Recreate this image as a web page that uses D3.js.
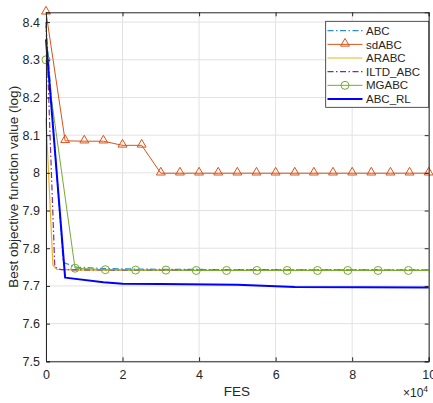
<!DOCTYPE html>
<html><head><meta charset="utf-8">
<script src="https://cdn.jsdelivr.net/npm/d3@7"></script>
<style>
html,body{margin:0;padding:0;background:#fff;}
svg{display:block;font-family:"Liberation Sans",Arial,sans-serif;}
</style></head>
<body><svg id="c" width="433" height="403"></svg>
<script>
// ---- data ----
const seriesNames = ["ABC","sdABC","ARABC","ILTD_ABC","MGABC","ABC_RL"];
const abcFES   = [0, 4500, 8000, 15000, 30000, 60000, 100000];
const abcVal   = [8.39, 7.762, 7.750, 7.746, 7.744, 7.743, 7.742];
const sdFES    = d3.range(0, 100001, 5000);
const sdVal    = [8.426, 8.085, 8.084, 8.084, 8.073, 8.073, 7.999, 7.999, 7.999, 7.999, 7.999,
                  7.999, 7.999, 7.999, 7.999, 7.999, 7.999, 7.999, 7.999, 7.999, 7.999];
const arFES    = [0, 1800, 2800, 10000, 100000];
const arVal    = [8.145, 7.755, 7.744, 7.742, 7.741];
const iltdFES  = [0, 2300, 4000, 20000, 100000];
const iltdVal  = [8.40, 7.750, 7.743, 7.742, 7.742];
const mgFES    = [0, 7580, 15500, 23420, 31340, 39260, 47180, 55100, 63020, 70940, 78860, 86780, 94700, 100000];
const mgVal    = [8.30, 7.747, 7.743, 7.742, 7.742, 7.741, 7.741, 7.741, 7.741, 7.741, 7.741, 7.741, 7.741, 7.741];
const mgMarkerFES = [0, 7580, 15500, 23420, 31340, 39260, 47180, 55100, 63020, 70940, 78860, 86780, 94700];
const rlFES    = [0, 5000, 15000, 20000, 30000, 50000, 60000, 65000, 100000];
const rlVal    = [8.354, 7.722, 7.710, 7.706, 7.705, 7.703, 7.699, 7.697, 7.696];
const xTicks   = [0, 20000, 40000, 60000, 80000, 100000];
const yTicks   = [7.5, 7.6, 7.7, 7.8, 7.9, 8.0, 8.1, 8.2, 8.3, 8.4];

// ---- layout ----
const L = 46, R = 428.7, T = 12.3, B = 361.3;
const x = d3.scaleLinear().domain([0, 100000]).range([L, R]);
const y = d3.scaleLinear().domain([7.5, 8.426]).range([B, T]);
const svg = d3.select("#c");
const axisColor = "#262626";

// grid
const g = svg.append("g");
g.selectAll(".gx").data(xTicks).join("line")
  .attr("x1", d => x(d)).attr("x2", d => x(d)).attr("y1", T).attr("y2", B)
  .attr("stroke", "#e2e2e2").attr("stroke-width", 1);
g.selectAll(".gy").data(yTicks).join("line")
  .attr("x1", L).attr("x2", R).attr("y1", d => y(d)).attr("y2", d => y(d))
  .attr("stroke", "#e2e2e2").attr("stroke-width", 1);

// series
const fmtLine = d3.line().x(d => x(d[0])).y(d => y(d[1]));
const zip = (a, b) => a.map((v, i) => [v, b[i]]);
const styles = {
  ABC:      {c: "#2b8fcf", w: 1.2, dash: "6,2.5,1.5,2.5"},
  sdABC:    {c: "#D95319", w: 1,   dash: null},
  ARABC:    {c: "#EDB120", w: 1.2, dash: null},
  ILTD_ABC: {c: "#7E2F8E", w: 1.2, dash: "6,2.5,1.5,2.5"},
  MGABC:    {c: "#77AC30", w: 1,   dash: null},
  ABC_RL:   {c: "#0000FF", w: 2,   dash: null}
};
const data = {
  ABC: zip(abcFES, abcVal),
  sdABC: zip(sdFES, sdVal),
  ARABC: zip(arFES, arVal),
  ILTD_ABC: zip(iltdFES, iltdVal),
  MGABC: zip(mgFES, mgVal),
  ABC_RL: zip(rlFES, rlVal)
};
const tri = d3.symbol().type(d3.symbolTriangle).size(34);
function drawMarkers(name, pts) {
  const s = styles[name];
  if (name === "sdABC") {
    svg.append("g").selectAll("path").data(pts).join("path")
      .attr("d", tri).attr("transform", d => `translate(${x(d[0])},${y(d[1]) - 0.8})`)
      .attr("fill", "none").attr("stroke", s.c).attr("stroke-width", 1);
  } else if (name === "MGABC") {
    svg.append("g").selectAll("circle").data(pts).join("circle")
      .attr("cx", d => x(d[0])).attr("cy", d => y(d[1])).attr("r", 4)
      .attr("fill", "none").attr("stroke", s.c).attr("stroke-width", 1);
  }
}
seriesNames.forEach(name => {
  const s = styles[name];
  svg.append("path").datum(data[name]).attr("d", fmtLine)
    .attr("fill", "none").attr("stroke", s.c).attr("stroke-width", s.w)
    .attr("stroke-dasharray", s.dash).attr("stroke-linejoin", "round");
  if (name === "sdABC") drawMarkers(name, data[name]);
  if (name === "MGABC") drawMarkers(name, zip(mgMarkerFES, mgMarkerFES.map(f => mgVal[mgFES.indexOf(f)])));
});

// axes (box with inward ticks)
const fx = d => String(d / 10000);
const fy = d => String(+d.toFixed(1));
const ax = svg.append("g").attr("transform", `translate(0,${B})`)
  .call(d3.axisBottom(x).tickValues(xTicks).tickFormat(fx).tickSize(-4).tickPadding(9));
const axT = svg.append("g").attr("transform", `translate(0,${T})`)
  .call(d3.axisTop(x).tickValues(xTicks).tickFormat("").tickSize(-4));
const ay = svg.append("g").attr("transform", `translate(${L},0)`)
  .call(d3.axisLeft(y).tickValues(yTicks).tickFormat(fy).tickSize(-4).tickPadding(6));
const ayR = svg.append("g").attr("transform", `translate(${R},0)`)
  .call(d3.axisRight(y).tickValues(yTicks).tickFormat("").tickSize(-4));
[ax, axT, ay, ayR].forEach(a => {
  a.selectAll("path.domain").attr("stroke", axisColor).attr("stroke-width", 1);
  a.selectAll(".tick line").attr("stroke", axisColor);
  a.selectAll("text").attr("fill", axisColor).style("font-size", "12.5px")
    .style("font-family", "'Liberation Sans', Arial, sans-serif");
});

// labels
svg.append("text").attr("x", 237).attr("y", 396).attr("text-anchor", "middle")
  .attr("fill", axisColor).style("font-size", "13.5px").text("FES");
svg.append("text").attr("transform", `translate(18,${(T + B) / 2}) rotate(-90)`)
  .attr("text-anchor", "middle").attr("fill", axisColor).style("font-size", "13.5px")
  .text("Best objective function value (log)");
const exp = svg.append("text").attr("x", 403).attr("y", 397).attr("fill", axisColor)
  .style("font-size", "12px");
exp.append("tspan").text("\u00d710");
exp.append("tspan").attr("dy", -5).style("font-size", "8.5px").text("4");

// legend
const lg = svg.append("g");
lg.append("rect").attr("x", 325.7).attr("y", 21.3).attr("width", 103).attr("height", 86)
  .attr("fill", "#fff").attr("stroke", axisColor).attr("stroke-width", 0.8);
const ly = d3.scalePoint().domain(seriesNames).range([30.7, 99]);
seriesNames.forEach(name => {
  const s = styles[name];
  const yy = ly(name);
  lg.append("line").attr("x1", 327.5).attr("x2", 362.5).attr("y1", yy).attr("y2", yy)
    .attr("stroke", s.c).attr("stroke-width", s.w).attr("stroke-dasharray", s.dash);
  if (name === "sdABC") {
    lg.append("path").attr("d", tri).attr("transform", `translate(345,${yy - 0.8})`)
      .attr("fill", "none").attr("stroke", s.c);
  }
  if (name === "MGABC") {
    lg.append("circle").attr("cx", 345).attr("cy", yy).attr("r", 4)
      .attr("fill", "none").attr("stroke", s.c);
  }
  lg.append("text").attr("x", 366).attr("y", yy).attr("dy", "0.36em")
    .attr("fill", axisColor).style("font-size", "11.5px").text(name);
});
</script></body></html>
